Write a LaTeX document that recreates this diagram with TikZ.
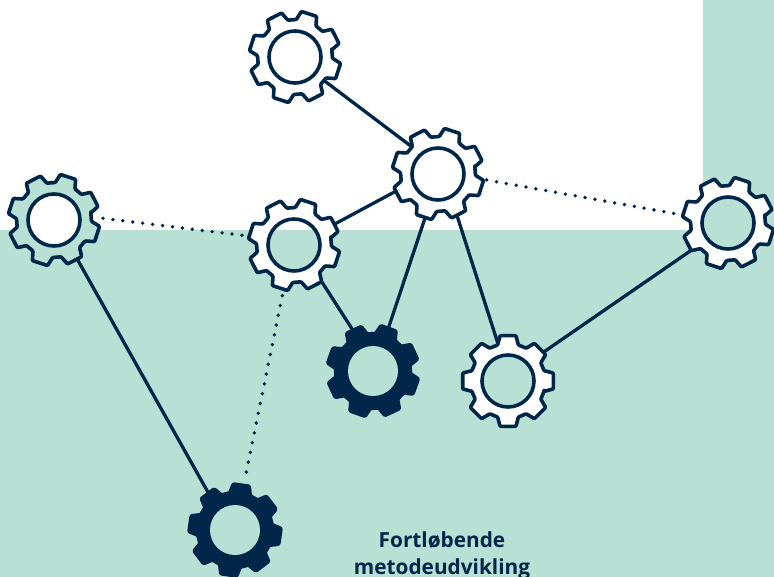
\documentclass[tikz,border=0pt]{standalone}
\usepackage{fontspec}
\setmainfont{Open Sans}
\definecolor{teal}{HTML}{B8E0D4}
\definecolor{navy}{HTML}{00264A}
\tikzset{
  x=1pt,y=1pt,
  hub/.style={circle,minimum size=76pt,inner sep=0pt,outer sep=0pt},
  link/.style={draw=navy,line width=3.3pt},
  dotlink/.style={draw=navy,line width=3.8pt,line cap=round,dash pattern=on 0pt off 10pt},
  title/.style={text=navy,font=\bfseries\fontsize{20.8}{27}\selectfont,inner sep=0pt,anchor=base},
  pics/gear/.style n args={3}{code={
    \path[fill=#2,draw=#1,line width=3.6pt,line join=round,rounded corners=0.9pt]
      (#3-16:37.5)
      \foreach \k in {0,...,7}{
        -- ({#3+45*\k-16}:37.5) -- ({#3+45*\k-10}:46) -- ({#3+45*\k+10}:46) -- ({#3+45*\k+16}:37.5)
      } -- cycle;
  }},
  pics/hole/.style n args={2}{code={
    \path[fill=#2,draw=#1,line width=3.6pt] (0,0) circle (26);
  }},
}
\begin{document}
\begin{tikzpicture}
\useasboundingbox (0,0) rectangle (774,-577);
\fill[teal] (0,-230) rectangle (774,-577);
\fill[teal] (703,0) rectangle (774,-230);
% hubs
\node[hub] (top) at (295,-57) {};
\node[hub] (mid) at (438,-174) {};
\node[hub] (lft) at (54,-220) {};
\node[hub] (cen) at (294,-245) {};
\node[hub] (rgt) at (728,-223) {};
\node[hub] (bot) at (508,-381) {};
\node[hub] (dka) at (373,-371) {};
\node[hub] (dkb) at (235,-530) {};
% connectors
\draw[link] (top.-39) -- (mid.134);
\draw[link] (mid.201) -- (cen.27);
\draw[link] (mid.-106) -- (dka.70);
\draw[link] (mid.-64) -- (bot.105);
\draw[link] (cen.-52) -- (dka.115);
\draw[link] (lft.-59) -- (dkb.127);
\draw[link] (bot.40) -- (rgt.217);
\draw[dotlink] ([shift={(2:11)}]lft.2) -- ([shift={(169:9)}]cen.169);
\draw[dotlink] ([shift={(-7:11)}]mid.-7) -- ([shift={(170:9)}]rgt.170);
\draw[dotlink] ([shift={(-103:14)}]cen.-103) -- ([shift={(79:12)}]dkb.79);
% gears
\pic at (top) {gear={navy}{white}{27}};
\pic at (mid) {gear={navy}{white}{27}};
\pic at (lft) {gear={navy}{teal}{27}};
\pic at (cen) {gear={navy}{white}{27}};
\pic at (rgt) {gear={navy}{white}{27}};
\pic at (bot) {gear={navy}{white}{0}};
\pic at (dka) {gear={navy}{navy}{25}};
\pic at (dkb) {gear={navy}{navy}{37}};
\pic at (top) {hole={navy}{white}};
\pic at (mid) {hole={navy}{white}};
\pic at (lft) {hole={navy}{white}};
\begin{scope}
\clip (cen) circle (26);
\fill[white] (268,-219) rectangle (320,-230);
\fill[teal] (268,-230) rectangle (320,-271);
\end{scope}
\draw[navy,line width=3.6pt] (cen) circle (26);
\pic at (rgt) {hole={navy}{teal}};
\pic at (bot) {hole={navy}{teal}};
\fill[teal] (dka) circle (25);
\fill[teal] (dkb) circle (25);
\node[title] (ttla) at (442,-547) {Fortløbende};
\node[title] (ttlb) at (442,-574) {metodeudvikling};
\end{tikzpicture}
\end{document}
